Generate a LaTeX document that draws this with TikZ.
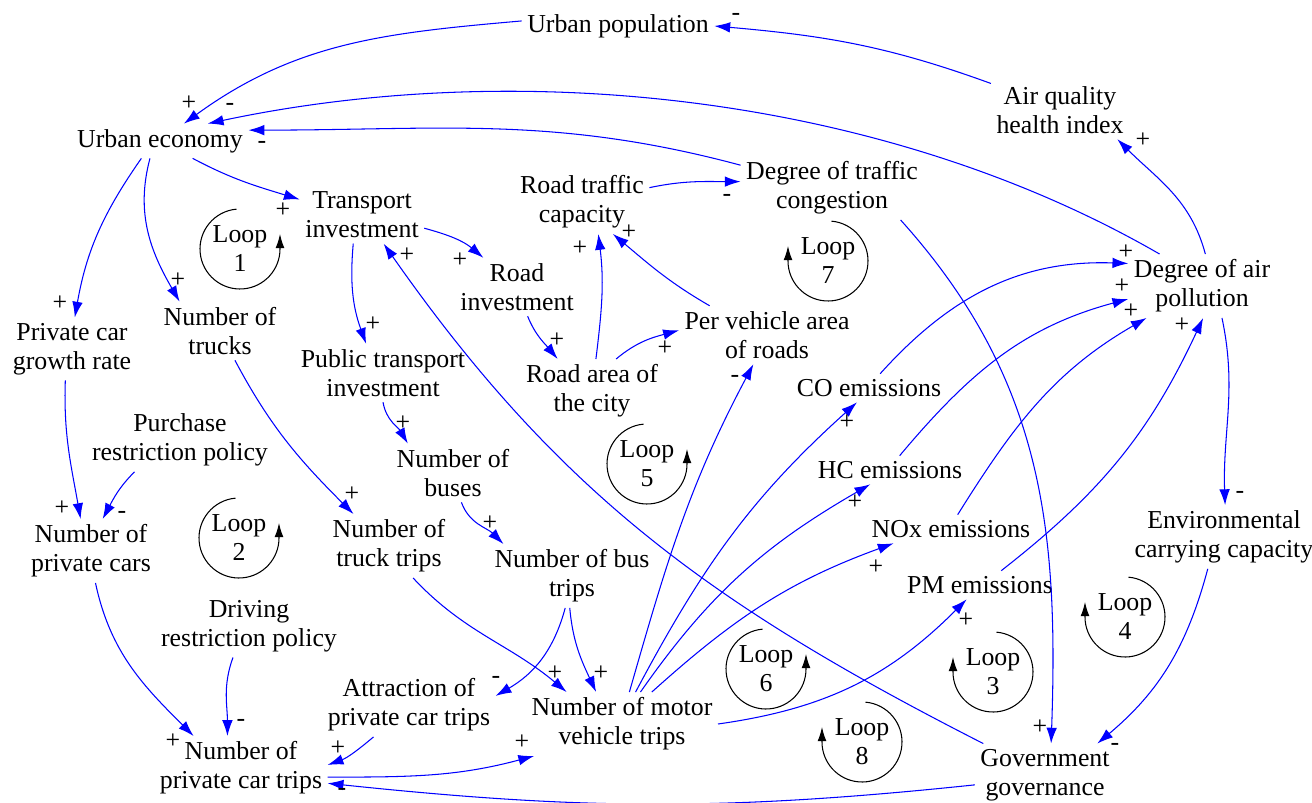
\documentclass[tikz,border=0pt]{standalone}
\usepackage{fontspec}
\setmainfont{Liberation Serif}
\usetikzlibrary{arrows.meta}
\definecolor{linkblue}{RGB}{0,0,255}

\begin{document}
\begin{tikzpicture}[x=0.02cm,y=0.02cm,font=\fontsize{14.7}{16.5}\selectfont,
	varnode/.style={align=center,inner sep=3pt},
	causal/.style={draw=linkblue,line width=0.6pt,-{Latex[length=9pt,width=6pt]}},
	sgn/.style={inner sep=0pt},
	loopar/.style={draw=black,line width=0.6pt,-{Latex[length=8pt,width=5pt]}}]
	\useasboundingbox (0,0) rectangle (1312,-803);

	% variables
	\node [varnode] (urbpop) at (618,-26) {Urban population};
	\node [varnode] (urbeco) at (160,-141) {Urban economy};
	\node [varnode] (airq) at (1060,-110) {Air quality\\health index};
	\node [varnode] (transinv) at (362,-215) {Transport\\investment};
	\node [varnode] (roadcap) at (582,-202) {Road traffic\\capacity};
	\node [varnode] (congest) at (832,-188) {Degree of traffic\\congestion};
	\node [varnode] (airpol) at (1202,-286) {Degree of air\\pollution};
	\node [varnode] (roadinv) at (517,-287) {Road\\investment};
	\node [varnode] (pcgr) at (72,-349) {Private car\\growth rate};
	\node [varnode] (trucks) at (220,-331) {Number of\\trucks};
	\node [varnode] (pervh) at (767,-335) {Per vehicle area\\of roads};
	\node [varnode] (ptinv) at (383,-373) {Public transport\\investment};
	\node [varnode] (roadarea) at (592,-391) {Road area of\\the city};
	\node [varnode] (co) at (869,-388) {CO emissions};
	\node [varnode] (hc) at (890,-470) {HC emissions};
	\node [varnode] (nox) at (951,-529) {NOx emissions};
	\node [varnode] (pm) at (980,-585) {PM emissions};
	\node [varnode] (purch) at (180,-440) {Purchase\\restriction policy};
	\node [varnode] (buses) at (453,-473) {Number of\\buses};
	\node [varnode] (pcars) at (91,-551) {Number of\\private cars};
	\node [varnode] (truckt) at (389,-546) {Number of\\truck trips};
	\node [varnode] (bust) at (572,-576) {Number of bus\\trips};
	\node [varnode] (envcap) at (1224,-537) {Environmental\\carrying capacity};
	\node [varnode] (drive) at (249,-626) {Driving\\restriction policy};
	\node [varnode] (attr) at (409,-705) {Attraction of\\private car trips};
	\node [varnode] (motor) at (622,-724) {Number of motor\\vehicle trips};
	\node [varnode] (pctrips) at (241,-768) {Number of\\private car trips};
	\node [varnode] (gov) at (1045,-775) {Government\\governance};

	% causal links
	\draw [causal] (airq.159) to[out=160,in=-5] (urbpop.east);
	\draw [causal] (urbpop.177) to[out=185,in=36] (urbeco.36);
	\draw [causal] (airpol.143) to[out=150,in=12,looseness=0.85] (urbeco.20);
	\draw [causal] (congest.166) to[out=165,in=0] (urbeco.7);
	\draw [causal] (airpol.84) to[out=105,in=-45] (airq.-27);
	\draw [causal] (urbeco.-28) to[out=-28,in=163] (transinv.166);
	\draw [causal] (urbeco.223) to[out=235,in=80] (pcgr.85);
	\draw [causal] (urbeco.240) to[out=255,in=120] (trucks.144);
	\draw [causal] (transinv.-12) to[out=-15,in=140] (roadinv.139);
	\draw [causal] (transinv.253) to[out=265,in=110] (ptinv.120);
	\draw [causal] (gov.153) to[out=153,in=-55] (transinv.-53);
	\draw [causal] (roadinv.-70) to[out=-68,in=130] (roadarea.137);
	\draw [causal] (roadarea.83) to[out=83,in=-83] (roadcap.-63);
	\draw [causal] (roadarea.53) to[out=40,in=195] (pervh.177);
	\draw [causal] (pervh.153) to[out=150,in=-40] (roadcap.-46);
	\draw [causal] (roadcap.12) to[out=12,in=180] (congest.176);
	\draw [causal] (congest.-25) to[out=-48,in=88] (gov.79);
	\draw [causal] (ptinv.south) to[out=-80,in=120] (buses.147);
	\draw [causal] (buses.-74) to[out=-70,in=135] (bust.155);
	\draw [causal] (trucks.-63) to[out=-62,in=135] (truckt.138);
	\draw [causal] (truckt.-53) to[out=-47,in=140] (motor.150);
	\draw [causal] (bust.-94) to[out=-85,in=115] (motor.129);
	\draw [causal] (bust.-102) to[out=-105,in=30] (attr.6);
	\draw [causal] (attr.222) to[out=220,in=20] (pctrips.2);
	\draw [causal] (pctrips.-6) to[out=0,in=195] (motor.200);
	\draw [causal] (gov.188) to[out=186,in=-6] (pctrips.-10);
	\draw [causal] (pcars.-82) to[out=-78,in=135] (pctrips.146);
	\draw [causal] (drive.-117) to[out=-110,in=90] (pctrips.113);
	\draw [causal] (pcgr.-102) to[out=-92,in=100] (pcars.108);
	\draw [causal] (purch.215) to[out=225,in=62] (pcars.70);
	\draw [causal] (motor.77) to[out=74,in=-118] (pervh.-115);
	\draw [causal] (motor.67) to[out=62,in=-138] (co.230);
	\draw [causal] (motor.60) to[out=55,in=-150] (hc.216);
	\draw [causal] (motor.47) to[out=42,in=-160] (nox.194);
	\draw [causal] (motor.east) to[out=8,in=-135] (pm.227);
	\draw [causal] (co.52) to[out=48,in=178] (airpol.163);
	\draw [causal] (hc.56) to[out=50,in=195] (airpol.190);
	\draw [causal] (nox.65) to[out=58,in=210] (airpol.210);
	\draw [causal] (pm.34) to[out=38,in=-115] (airpol.-88);
	\draw [causal] (airpol.-58) to[out=-78,in=92] (envcap.88);
	\draw [causal] (envcap.243) to[out=-105,in=40] (gov.31);

	% polarities
	\node [sgn] (sg1) at (736,-17) {-};
	\node [sgn] (sg2) at (189,-103) {+};
	\node [sgn] (sg3) at (230,-107) {-};
	\node [sgn] (sg4) at (262,-145) {-};
	\node [sgn] (sg5) at (1143,-140) {+};
	\node [sgn] (sg6) at (283,-210) {+};
	\node [sgn] (sg7) at (60,-303) {+};
	\node [sgn] (sg8) at (178,-280) {+};
	\node [sgn] (sg9) at (460,-260) {+};
	\node [sgn] (sg10) at (373,-324) {+};
	\node [sgn] (sg11) at (407,-255) {+};
	\node [sgn] (sg12) at (557,-340) {+};
	\node [sgn] (sg13) at (580,-248) {+};
	\node [sgn] (sg14) at (665,-348) {+};
	\node [sgn] (sg15) at (629,-232) {+};
	\node [sgn] (sg16) at (727,-198) {-};
	\node [sgn] (sg17) at (1040,-727) {+};
	\node [sgn] (sg18) at (403,-423) {+};
	\node [sgn] (sg19) at (490,-523) {+};
	\node [sgn] (sg20) at (352,-494) {+};
	\node [sgn] (sg21) at (555,-673) {+};
	\node [sgn] (sg22) at (601,-673) {+};
	\node [sgn] (sg23) at (496,-680) {-};
	\node [sgn] (sg24) at (338,-748) {+};
	\node [sgn] (sg25) at (522,-742) {+};
	\node [sgn] (sg26) at (342,-792) {-};
	\node [sgn] (sg27) at (173,-741) {+};
	\node [sgn] (sg28) at (241,-723) {-};
	\node [sgn] (sg29) at (62,-508) {+};
	\node [sgn] (sg30) at (122,-515) {-};
	\node [sgn] (sg31) at (735,-379) {-};
	\node [sgn] (sg32) at (847,-422) {+};
	\node [sgn] (sg33) at (855,-502) {+};
	\node [sgn] (sg34) at (876,-567) {+};
	\node [sgn] (sg35) at (966,-620) {+};
	\node [sgn] (sg36) at (1126,-252) {+};
	\node [sgn] (sg37) at (1122,-286) {+};
	\node [sgn] (sg38) at (1131,-311) {+};
	\node [sgn] (sg39) at (1182,-325) {+};
	\node [sgn] (sg40) at (1240,-495) {-};
	\node [sgn] (sg41) at (1115,-747) {-};

	% loops
	\node [varnode] (lp1) at (240,-249) {Loop\\1};
	\node [varnode] (lp2) at (239,-538) {Loop\\2};
	\node [varnode] (lp5) at (647,-464) {Loop\\5};
	\node [varnode] (lp6) at (766,-669) {Loop\\6};
	\node [varnode] (lp7) at (828,-261) {Loop\\7};
	\node [varnode] (lp3) at (993,-672) {Loop\\3};
	\node [varnode] (lp4) at (1125,-617) {Loop\\4};
	\node [varnode] (lp8) at (862,-742) {Loop\\8};
	\foreach \lp in {lp1,lp2,lp5,lp6}
		\draw [loopar] ([shift={(95:40)}]\lp.center) arc[start angle=95,end angle=360,radius=40] -- ++(0,15);
	\foreach \lp in {lp7,lp3,lp4,lp8}
		\draw [loopar] ([shift={(85:40)}]\lp.center) arc[start angle=85,end angle=-180,radius=40] -- ++(0,15);
\end{tikzpicture}
\end{document}
